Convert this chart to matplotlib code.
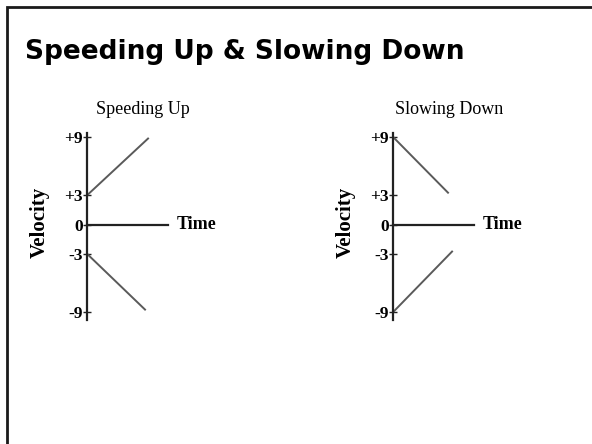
import matplotlib
matplotlib.use("Agg")
import matplotlib.pyplot as plt
from matplotlib.patches import Rectangle

# data
title = "Speeding Up & Slowing Down"
panel_titles = ["Speeding Up", "Slowing Down"]
tick_vals = [9, 3, 0, -3, -9]
tick_labels = ["+9", "+3", "0", "-3", "-9"]

speed_up_t1 = [0, 6.1]
speed_up_v1 = [3, 8.9]
speed_up_t2 = [0, 5.8]
speed_up_v2 = [-3, -8.8]

slow_down_t1 = [0, 5.5]
slow_down_v1 = [9, 3.2]
slow_down_t2 = [0, 5.9]
slow_down_v2 = [-9, -2.7]

W, H = 592, 444
fig = plt.figure(figsize=(W / 100, H / 100), dpi=100)
fig.patch.set_facecolor("white")

# slide frame (only top and left edges show)
fig.add_artist(Rectangle((7 / W, -0.2), 1.5, 1.2 - 7 / H, transform=fig.transFigure,
                         fill=False, edgecolor="#1a1a1a", linewidth=2.0, clip_on=False))

fig.text(25 / W, 1 - 52 / H, title, fontsize=19, fontweight="bold",
         family="DejaVu Sans", ha="left", va="center", color="black")

SERIF = "Liberation Serif"


def draw_panel(x_axis_px, lines, name):
    # axes box in pixels: y from 133 (top) to 320 (bottom), x from axis to +81 px
    ax = fig.add_axes([x_axis_px / W, 1 - 320 / H, 81 / W, 187 / H])
    ax.set_xlim(0, 8)
    ax.set_ylim(-9.8, 9.4)
    ax.patch.set_alpha(0)
    for t, v in lines:
        ax.plot(t, v, color="#5a5a5a", linewidth=1.4, solid_capstyle="butt")
    for s in ["top", "right"]:
        ax.spines[s].set_visible(False)
    ax.spines["bottom"].set_position(("data", 0))
    ax.spines["left"].set_position(("data", 0))
    for s in ["left", "bottom"]:
        ax.spines[s].set_linewidth(1.6)
        ax.spines[s].set_color("#222222")
    ax.set_xticks([])
    ax.set_yticks(tick_vals)
    ax.set_yticklabels(tick_labels, fontsize=12.5, fontweight="bold", family=SERIF)
    ax.tick_params(axis="y", direction="inout", length=6, width=1.0, pad=0, color="#222222")
    ax.text(8.9, 0, "Time", fontsize=13, fontweight="bold", family=SERIF,
            ha="left", va="center")
    ax.text(5.5, 11.8, name, fontsize=13, family=SERIF, ha="center", va="center")
    ax.text(-4.7, 0.2, "Velocity", fontsize=15, fontweight="bold", family=SERIF,
            rotation=90, ha="center", va="center")
    return ax


draw_panel(87, [(speed_up_t1, speed_up_v1), (speed_up_t2, speed_up_v2)], panel_titles[0])
draw_panel(393, [(slow_down_t1, slow_down_v1), (slow_down_t2, slow_down_v2)], panel_titles[1])

fig.savefig("out.png", dpi=100)
